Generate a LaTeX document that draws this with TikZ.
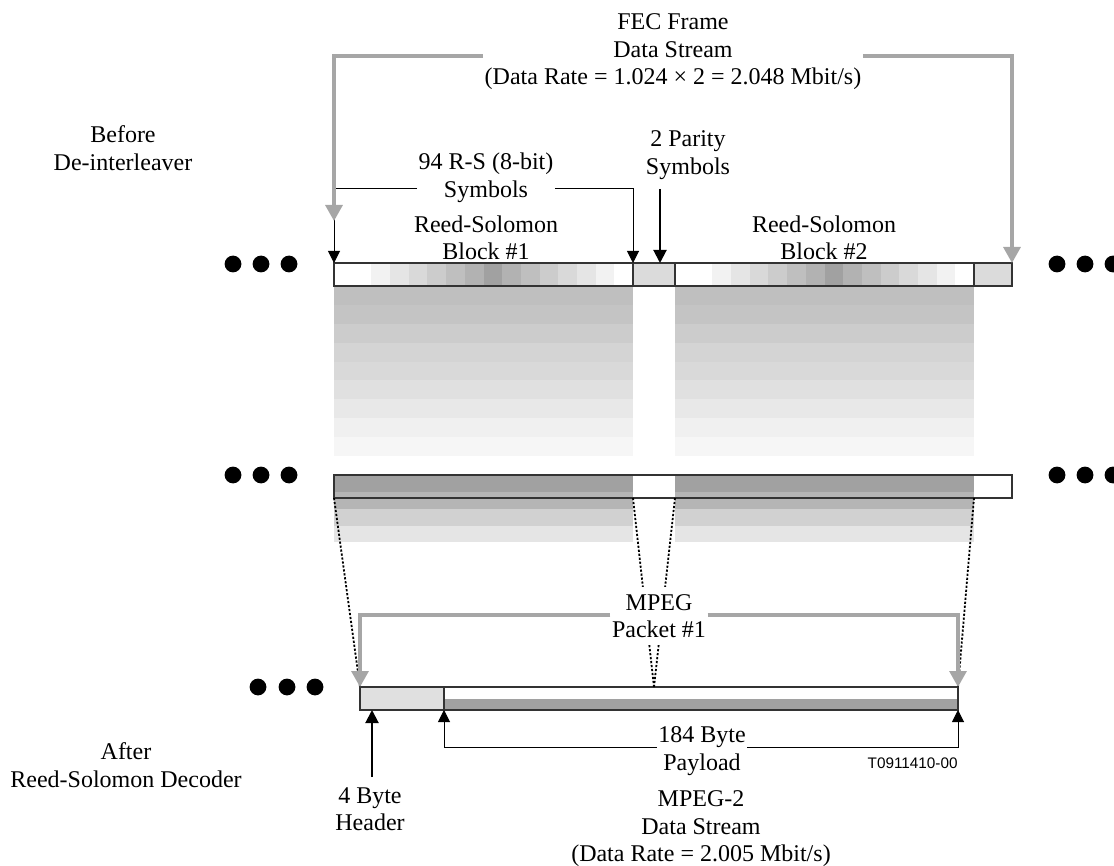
\documentclass[tikz,border=0pt]{standalone}
\usepackage{fontspec}
\setmainfont{Liberation Serif}
\newfontfamily\sansf{Liberation Sans}
\usetikzlibrary{arrows.meta}
\definecolor{arrowgrey}{gray}{0.65}
\definecolor{outline}{gray}{0.2}
\tikzset{
  lbl/.style={align=center, inner xsep=0.6pt, inner ysep=0pt, font=\fontsize{12}{13.75}\selectfont},
  bar/.style={draw=outline, line width=0.7pt, inner sep=0pt, outer sep=0pt, minimum height=11.5pt, anchor=north west},
  garrow/.style={draw=arrowgrey, line width=1.6pt, -{Triangle[length=8pt,width=8.5pt]}},
  barrow/.style={draw=black, line width=0.5pt, -{Triangle[length=6pt,width=6pt]}},
  bthick/.style={draw=black, line width=1pt, -{Triangle[length=6.5pt,width=6.5pt]}},
  dotline/.style={draw=black, line width=0.9pt, dash pattern=on 1.1pt off 0.9pt},
}
\begin{document}
\begin{tikzpicture}[x=0.5pt,y=-0.5pt]
\useasboundingbox (0,0) rectangle (1114,866);

% horizontal gradient cells in the top row
\foreach \i/\k in {0/0,1/0,2/5,3/10,4/15,5/20,6/25,7/30,8/37,9/30,10/25,11/20,12/15,13/10,14/5,15/0}{
  \foreach \ox in {0,341}{
    \fill[black!\k] ({334+\ox+\i*18.6875},263) rectangle ({334+\ox+(\i+1)*18.6875+0.3},286);
  }
}
% vertical fading columns below the top row
\foreach \j/\k in {0/25,1/23,2/20,3/17,4/15,5/12,6/9,7/6,8/3.5}{
  \foreach \ox in {0,341}{
    \fill[black!\k] ({334+\ox},{286+\j*18.89}) rectangle ({633+\ox},{286+(\j+1)*18.89+0.4});
  }
}
% fading rows around the middle bar
\foreach \ya/\yb/\k in {475/492.4/37,492/509.4/29,509/526.4/18,526/542/10}{
  \foreach \ox in {0,341}{
    \fill[black!\k] ({334+\ox},\ya) rectangle ({633+\ox},\yb);
  }
}
\fill[black!37] (444,699) rectangle (958,710);

% bars
\node[bar, minimum width=149.5pt] (blk1) at (334,263) {};
\node[bar, minimum width=21pt, fill=black!14] (par1) at (633,263) {};
\node[bar, minimum width=149.5pt] (blk2) at (675,263) {};
\node[bar, minimum width=19pt, fill=black!14] (par2) at (974,263) {};
\node[bar, minimum width=339pt] (mid) at (334,475) {};
\node[bar, minimum width=42pt, fill=black!12] (hdr) at (360,687) {};
\node[bar, minimum width=257pt] (pay) at (444,687) {};

% dotted mapping lines
\coordinate (m2) at (633,498);
\coordinate (m3) at (675,498);
\coordinate (m4) at (974,498);
\coordinate (pk) at (654,687);
\draw[dotline] (mid.south west) -- (hdr.north west);
\draw[dotline] (m2) -- (pk);
\draw[dotline] (m3) -- (pk);
\draw[dotline] (m4) -- (pay.north east);

% labels
\node[lbl] (fec) at (673,52) {FEC Frame\\Data Stream\\(Data Rate = 1.024 × 2 = 2.048 Mbit/s)};
\node[lbl] (sym94) at (486,178) {94 R-S (8-bit)\\Symbols};
\node[lbl] (psym) at (688,155) {2 Parity\\Symbols};
\node[lbl] (rs1) at (486,238) {Reed-Solomon\\Block \#1};
\node[lbl] (rs2) at (824,238) {Reed-Solomon\\Block \#2};
\node[lbl] (before) at (123,148) {Before\\De-interleaver};
\node[lbl] (after) at (126,765) {After\\Reed-Solomon Decoder};
\node[lbl, fill=white, inner ysep=3.5pt] (mpeg) at (659,616) {MPEG\\Packet \#1};
\node[lbl] (p184) at (702,751) {184 Byte\\Payload};
\node[lbl] (hl) at (370,809) {4 Byte\\Header};
\node[lbl] (m2lbl) at (701,829) {MPEG-2\\Data Stream\\(Data Rate = 2.005 Mbit/s)};
\node[anchor=east, inner sep=0pt, font=\sansf\fontsize{7.65}{9}\selectfont] (code) at (958,763) {T0911410-00};

% black brackets and arrows
\coordinate (sy) at (0,189);
\draw[barrow] (sym94.west |- sy) -| (blk1.north west);
\draw[barrow] (sym94.east |- sy) -| (blk1.north east);
\coordinate (ps) at (660,189);
\draw[bthick] (ps) -- (ps |- par1.north);
\coordinate (by) at (0,747);
\draw[barrow] (p184.west |- by) -| (pay.south west);
\draw[barrow] (p184.east |- by) -| (pay.south east);
\coordinate (hb) at (372,777);
\draw[bthick] (hb) -- (hb |- hdr.south);

% grey arrows
\coordinate (fy) at (0,56);
\coordinate (fectip) at (334,221);
\draw[garrow] (fec.west |- fy) -| (fectip);
\draw[garrow] (fec.east |- fy) -| (par2.north east);
\coordinate (mpy) at (0,615);
\draw[garrow] (mpeg.west |- mpy) -| (hdr.north west);
\draw[garrow] (mpeg.east |- mpy) -| (pay.north east);

% continuation dots
\foreach \x in {233,261,289,1057,1085,1113}{
  \fill (\x,264) circle[radius=4.2pt];
  \fill (\x,475) circle[radius=4.2pt];
}
\foreach \x in {258,287,315}{
  \fill (\x,687) circle[radius=4.2pt];
}
\end{tikzpicture}
\end{document}
